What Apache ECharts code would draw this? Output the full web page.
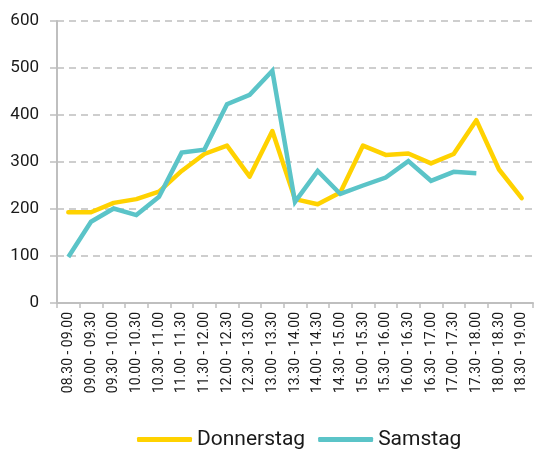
<!DOCTYPE html>
<html>
<head>
<meta charset="utf-8">
<script src="https://cdn.jsdelivr.net/npm/echarts@6/dist/echarts.min.js"></script>
<style>
  html, body { margin: 0; padding: 0; background: #fff; }
  #chart { width: 534px; height: 450px; }
</style>
</head>
<body>
<div id="chart"></div>
<script>
// Half-hour time slots
var timeSlots = [
  '08.30 - 09.00', '09.00 - 09.30', '09.30 - 10.00', '10.00 - 10.30',
  '10.30 - 11.00', '11.00 - 11.30', '11.30 - 12.00', '12.00 - 12.30',
  '12.30 - 13.00', '13.00 - 13.30', '13.30 - 14.00', '14.00 - 14.30',
  '14.30 - 15.00', '15.00 - 15.30', '15.30 - 16.00', '16.00 - 16.30',
  '16.30 - 17.00', '17.00 - 17.30', '17.30 - 18.00', '18.00 - 18.30',
  '18.30 - 19.00'
];

// Counts per slot
var donnerstag = [193, 193, 213, 221, 237, 281, 317, 335, 269, 366, 221,
                  210, 235, 335, 315, 318, 297, 317, 389, 284, 223];
var samstag = [98, 173, 201, 187, 226, 320, 326, 423, 443, 494, 215,
               281, 232, 250, 267, 302, 260, 279, 276, null, null];

var yTicks = [0, 100, 200, 300, 400, 500, 600];

var FONT = 'Roboto';

var chart = echarts.init(document.getElementById('chart'));
chart.setOption({
  animation: false,
  grid: { left: 57, right: 1, top: 21, bottom: 147, containLabel: false },
  legend: {
    bottom: -5,
    left: 132,
    itemWidth: 55,
    itemHeight: 5,
    itemGap: 13,
    icon: 'roundRect',
    textStyle: { fontFamily: FONT, fontSize: 21, color: '#1a1a1a' },
    data: ['Donnerstag', 'Samstag']
  },
  xAxis: {
    type: 'category',
    data: timeSlots,
    boundaryGap: true,
    axisLine: { lineStyle: { color: '#bfbfbf', width: 2 } },
    axisTick: { show: true, length: 5, lineStyle: { color: '#bfbfbf', width: 1.5 } },
    axisLabel: {
      rotate: 90,
      interval: 0,
      margin: 9,
      fontFamily: FONT,
      fontSize: 14,
      color: '#1a1a1a'
    }
  },
  yAxis: {
    type: 'value',
    min: yTicks[0],
    max: yTicks[yTicks.length - 1],
    interval: 100,
    axisLine: { show: true, lineStyle: { color: '#bfbfbf', width: 2 } },
    axisTick: { show: true, length: 7, lineStyle: { color: '#bfbfbf', width: 1.5 } },
    axisLabel: {
      margin: 18,
      fontFamily: FONT,
      fontSize: 17,
      color: '#1a1a1a'
    },
    splitLine: {
      show: true,
      lineStyle: { color: '#bfbfbf', width: 1.5, type: [7, 5] }
    }
  },
  series: [
    {
      name: 'Donnerstag',
      type: 'line',
      data: donnerstag,
      symbol: 'none',
      color: '#ffd200',
      lineStyle: { width: 4.5, color: '#ffd200', cap: 'round', join: 'round' },
      z: 2
    },
    {
      name: 'Samstag',
      type: 'line',
      data: samstag,
      symbol: 'none',
      color: '#5bc4c8',
      lineStyle: { width: 4.5, color: '#5bc4c8', cap: 'butt', join: 'miter' },
      z: 3
    }
  ]
});
</script>
</body>
</html>
